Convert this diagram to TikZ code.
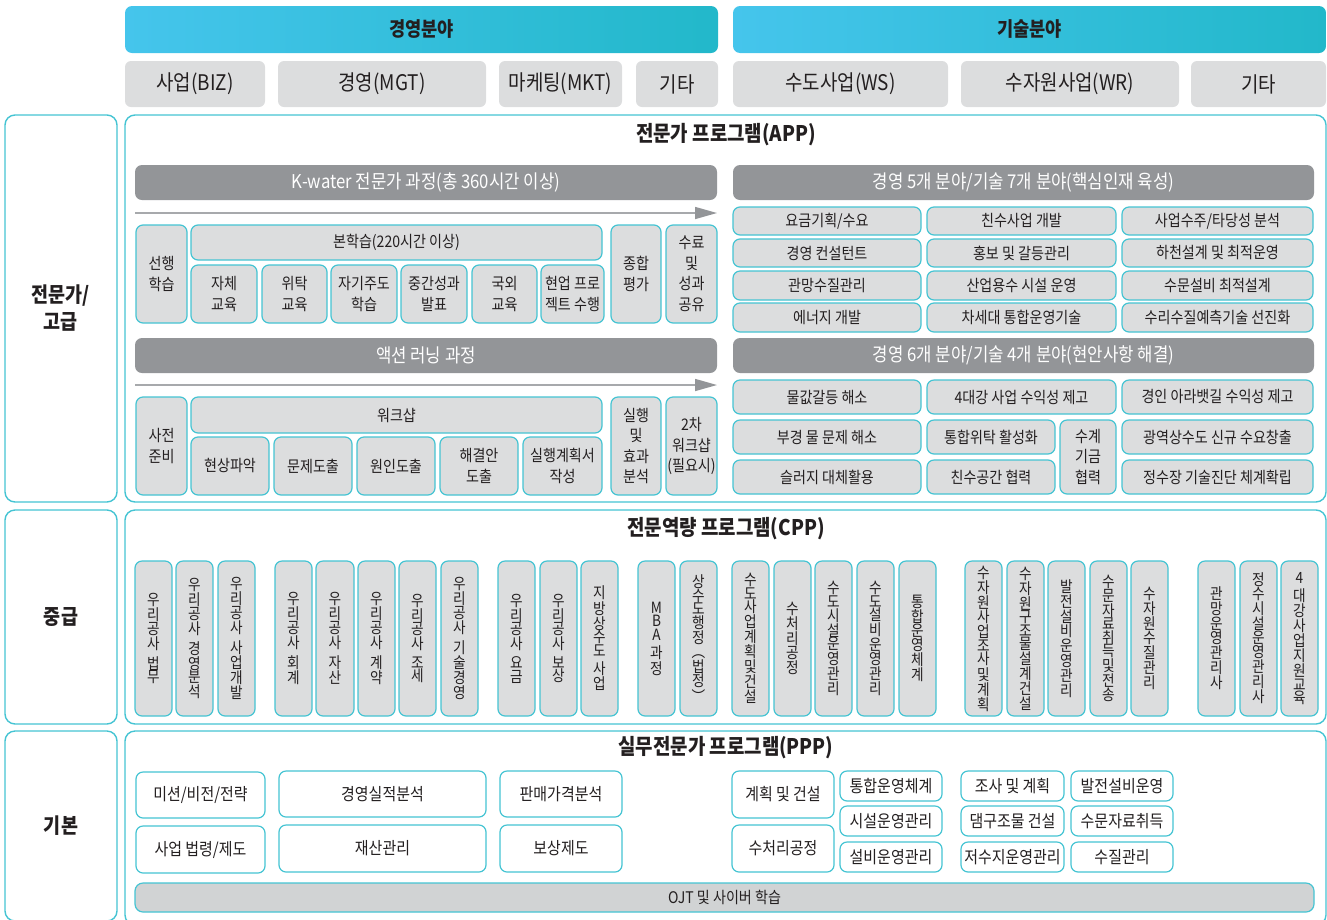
\documentclass[tikz,border=0pt]{standalone}
\usepackage{fontspec}
\setmainfont{Noto Sans CJK KR}[FakeStretch=0.88]
\usetikzlibrary{shapes,arrows.meta,positioning}

\definecolor{lineteal}{HTML}{45C4D3}
\definecolor{itemgray}{HTML}{DCDDDE}
\definecolor{bargray}{HTML}{939598}
\definecolor{ojtgray}{HTML}{D1D3D4}
\definecolor{hcyanl}{HTML}{45C5EC}
\definecolor{hcyanr}{HTML}{22B8CA}
\definecolor{darktxt}{HTML}{231F20}
\definecolor{arrowgray}{HTML}{A7A9AC}

% box from (x1,y1) to (x2,y2) in pixel units
\newcommand{\cellbox}[8][]{%
  \node[#2,minimum width={#6-#4},minimum height={#7-#5},#1] (#3) at ({(#4+#6)/2},{(#5+#7)/2}) {#8};}

\begin{document}
\begin{tikzpicture}[x=1pt,y=-1pt,
    head/.style={rectangle,rounded corners=7pt,left color=hcyanl,right color=hcyanr,text=darktxt,font=\fontsize{20}{22}\selectfont\bfseries,inner sep=0pt},
    field/.style={rectangle,rounded corners=6pt,fill=itemgray,text=darktxt,font=\fontsize{21.5}{24}\selectfont,inner sep=0pt},
    level/.style={rectangle,draw=lineteal,line width=1.4pt,rounded corners=10pt,fill=white,text=darktxt,font=\fontsize{21}{27}\selectfont\bfseries,align=center,inner sep=0pt},
    ptitle/.style={text=darktxt,font=\fontsize{21.5}{24}\selectfont\bfseries},
    bar/.style={rectangle,rounded corners=7pt,fill=bargray,text=white,font=\fontsize{19}{22}\selectfont,inner sep=0pt},
    item/.style={rectangle,draw=lineteal,line width=1.2pt,rounded corners=7pt,fill=itemgray,text=darktxt,font=\fontsize{16}{20.5}\selectfont,align=center,inner sep=0pt},
    vitem/.style={item,font=\fontsize{15.5}{13.6}\selectfont},
    pitem/.style={item,fill=white,font=\fontsize{17}{20}\selectfont},
    ojt/.style={item,fill=ojtgray,rounded corners=8pt},
    timeline/.style={arrowgray,line width=1.5pt,-{Triangle[length=22pt,width=12pt,fill=bargray,color=bargray]}}]
\clip (0,0) rectangle (1327,919);
\useasboundingbox (0,0) rectangle (1327,919);

% fields
\cellbox{head}{mgthead}{125}{6}{718}{53}{경영분야}
\cellbox{head}{techhead}{733}{6}{1326}{53}{기술분야}
\cellbox{field}{fbiz}{125}{61}{265}{107}{사업(BIZ)}
\cellbox{field}{fmgt}{278}{61}{486}{107}{경영(MGT)}
\cellbox{field}{fmkt}{499}{61}{622}{107}{마케팅(MKT)}
\cellbox{field}{fetca}{636}{61}{718}{107}{기타}
\cellbox{field}{fws}{733}{61}{948}{107}{수도사업(WS)}
\cellbox{field}{fwr}{961}{61}{1179}{107}{수자원사업(WR)}
\cellbox{field}{fetcb}{1191}{61}{1326}{107}{기타}

% levels and programs
\cellbox{level}{lvhigh}{5}{115}{117}{502}{전문가/\\고급}
\cellbox{level}{lvmid}{5}{510}{117}{724}{중급}
\cellbox{level}{lvbase}{5}{731}{117}{921}{기본}
\cellbox{level}{app}{125}{115}{1326}{502}{}
\cellbox{level}{cpp}{125}{510}{1326}{724}{}
\cellbox{level}{ppp}{125}{731}{1326}{925}{}
\node[ptitle] (apptitle) at (726,135) {전문가 프로그램(APP)};
\node[ptitle] (cpptitle) at (726,529) {전문역량 프로그램(CPP)};
\node[ptitle] (ppptitle) at (726,748) {실무전문가 프로그램(PPP)};

% APP: K-water course
\cellbox{bar}{kwbar}{135}{165}{717}{200}{K-water 전문가 과정(총 360시간 이상)}
\coordinate (kwstart) at (135,213);
\coordinate (kwend) at (717,213);
\draw[timeline] (kwstart) -- (kwend);
\cellbox{item}{prelearn}{136}{225}{187}{323}{선행\\학습}
\cellbox{item}{mainlearn}{191}{225}{602}{260}{본학습(220시간 이상)}
\cellbox{item}{selfedu}{191}{265}{257}{323}{자체\\교육}
\cellbox{item}{trustedu}{262}{265}{327}{323}{위탁\\교육}
\cellbox{item}{selfdir}{331}{265}{397}{323}{자기주도\\학습}
\cellbox{item}{midpres}{401}{265}{467}{323}{중간성과\\발표}
\cellbox{item}{abroad}{472}{265}{537}{323}{국외\\교육}
\cellbox{item}{project}{541}{265}{604}{323}{현업 프로\\젝트 수행}
\cellbox{item}{totaleval}{611}{225}{661}{323}{종합\\평가}
\cellbox{item}{complete}{666}{225}{717}{323}{수료\\및\\성과\\공유}

% APP: core talent
\cellbox{bar}{corebar}{733}{165}{1314}{200}{경영 5개 분야/기술 7개 분야(핵심인재 육성)}
\cellbox{item}{ca}{733}{207}{921}{235}{요금기획/수요}
\cellbox{item}{cb}{927}{207}{1116}{235}{친수사업 개발}
\cellbox{item}{cc}{1122}{207}{1313}{235}{사업수주/타당성 분석}
\cellbox{item}{cd}{733}{239}{921}{267}{경영 컨설턴트}
\cellbox{item}{ce}{927}{239}{1116}{267}{홍보 및 갈등관리}
\cellbox{item}{cf}{1122}{239}{1313}{267}{하천설계 및 최적운영}
\cellbox{item}{cg}{733}{271}{921}{300}{관망수질관리}
\cellbox{item}{ch}{927}{271}{1116}{300}{산업용수 시설 운영}
\cellbox{item}{ci}{1122}{271}{1313}{300}{수문설비 최적설계}
\cellbox{item}{cj}{733}{303}{921}{332}{에너지 개발}
\cellbox{item}{ck}{927}{303}{1116}{332}{차세대 통합운영기술}
\cellbox{item}{cl}{1122}{303}{1313}{332}{수리수질예측기술 선진화}

% APP: action learning
\cellbox{bar}{albar}{135}{338}{717}{373}{액션 러닝 과정}
\coordinate (alstart) at (135,385);
\coordinate (alend) at (717,385);
\draw[timeline] (alstart) -- (alend);
\cellbox{item}{prep}{136}{397}{187}{495}{사전\\준비}
\cellbox{item}{workshop}{191}{397}{602}{433}{워크샵}
\cellbox{item}{wsa}{191}{437}{269}{495}{현상파악}
\cellbox{item}{wsb}{274}{437}{352}{495}{문제도출}
\cellbox{item}{wsc}{357}{437}{435}{495}{원인도출}
\cellbox{item}{wsd}{440}{437}{518}{495}{해결안\\도출}
\cellbox{item}{wse}{523}{437}{602}{495}{실행계획서\\작성}
\cellbox{item}{execeval}{611}{397}{661}{495}{실행\\및\\효과\\분석}
\cellbox{item}{secondws}{666}{397}{717}{495}{2차\\워크샵\\(필요시)}

% APP: pending issues
\cellbox{bar}{issuebar}{733}{338}{1314}{373}{경영 6개 분야/기술 4개 분야(현안사항 해결)}
\cellbox{item}{ia}{733}{380}{921}{414}{물값갈등 해소}
\cellbox{item}{ib}{927}{380}{1116}{414}{4대강 사업 수익성 제고}
\cellbox{item}{ic}{1122}{380}{1313}{414}{경인 아라뱃길 수익성 제고}
\cellbox{item}{id}{733}{420}{921}{454}{부경 물 문제 해소}
\cellbox{item}{ie}{927}{420}{1055}{454}{통합위탁 활성화}
\cellbox{item}{ifund}{1060}{420}{1116}{494}{수계\\기금\\협력}
\cellbox{item}{ig}{1122}{420}{1313}{454}{광역상수도 신규 수요창출}
\cellbox{item}{ih}{733}{460}{921}{494}{슬러지 대체활용}
\cellbox{item}{ii}{927}{460}{1055}{494}{친수공간 협력}
\cellbox{item}{ij}{1122}{460}{1313}{494}{정수장 기술진단 체계확립}

% CPP
\cellbox{vitem}{va}{135}{561}{172}{716}{우\\리\\공\\사\\[5pt]법\\무}
\cellbox{vitem}{vb}{176}{561}{213}{716}{우\\리\\공\\사\\[5pt]경\\영\\분\\석}
\cellbox{vitem}{vc}{218}{561}{255}{716}{우\\리\\공\\사\\[5pt]사\\업\\개\\발}
\cellbox{vitem}{vd}{275}{561}{312}{716}{우\\리\\공\\사\\[5pt]회\\계}
\cellbox{vitem}{ve}{316}{561}{354}{716}{우\\리\\공\\사\\[5pt]자\\산}
\cellbox{vitem}{vf}{358}{561}{395}{716}{우\\리\\공\\사\\[5pt]계\\약}
\cellbox{vitem}{vg}{399}{561}{436}{716}{우\\리\\공\\사\\[5pt]조\\세}
\cellbox{vitem}{vh}{441}{561}{478}{716}{우\\리\\공\\사\\[5pt]기\\술\\경\\영}
\cellbox{vitem}{vi}{498}{561}{535}{716}{우\\리\\공\\사\\[5pt]요\\금}
\cellbox{vitem}{vj}{540}{561}{577}{716}{우\\리\\공\\사\\[5pt]보\\상}
\cellbox{vitem}{vk}{581}{561}{618}{716}{지\\방\\상\\수\\도\\[5pt]사\\업}
\cellbox{vitem}{vl}{638}{561}{675}{716}{M\\B\\A\\[5pt]과\\정}
\cellbox{vitem}{vm}{680}{561}{717}{716}{상\\수\\도\\행\\정\\︵\\법\\정\\︶}
\cellbox{vitem}{vn}{732}{561}{769}{716}{수\\도\\사\\업\\계\\획\\및\\건\\설}
\cellbox{vitem}{vo}{774}{561}{811}{716}{수\\처\\리\\공\\정}
\cellbox{vitem}{vp}{815}{561}{852}{716}{수\\도\\시\\설\\운\\영\\관\\리}
\cellbox{vitem}{vq}{857}{561}{894}{716}{수\\도\\설\\비\\운\\영\\관\\리}
\cellbox{vitem}{vr}{899}{561}{936}{716}{통\\합\\운\\영\\체\\계}
\cellbox{vitem}{vs}{965}{561}{1002}{716}{수\\자\\원\\사\\업\\조\\사\\및\\계\\획}
\cellbox{vitem}{vt}{1007}{561}{1044}{716}{수\\자\\원\\구\\조\\물\\설\\계\\건\\설}
\cellbox{vitem}{vu}{1048}{561}{1085}{716}{발\\전\\설\\비\\운\\영\\관\\리}
\cellbox{vitem}{vv}{1090}{561}{1127}{716}{수\\문\\자\\료\\취\\득\\및\\전\\송}
\cellbox{vitem}{vw}{1131}{561}{1168}{716}{수\\자\\원\\수\\질\\관\\리}
\cellbox{vitem}{vx}{1198}{561}{1235}{716}{관\\망\\운\\영\\관\\리\\사}
\cellbox{vitem}{vy}{1240}{561}{1277}{716}{정\\수\\시\\설\\운\\영\\관\\리\\사}
\cellbox{vitem}{vz}{1281}{561}{1318}{716}{4\\[5pt]대\\강\\사\\업\\지\\원\\교\\육}

% PPP
\cellbox{pitem}{pa}{136}{772}{265}{818}{미션/비전/전략}
\cellbox{pitem}{pb}{136}{826}{265}{873}{사업 법령/제도}
\cellbox{pitem}{pc}{279}{771}{486}{817}{경영실적분석}
\cellbox{pitem}{pd}{279}{825}{486}{872}{재산관리}
\cellbox{pitem}{pe}{500}{771}{622}{817}{판매가격분석}
\cellbox{pitem}{pf}{500}{825}{622}{872}{보상제도}
\cellbox{pitem}{pg}{732}{771}{834}{818}{계획 및 건설}
\cellbox{pitem}{ph}{732}{825}{834}{872}{수처리공정}
\cellbox{pitem}{pi}{840}{771}{942}{801}{통합운영체계}
\cellbox{pitem}{pj}{840}{806}{942}{836}{시설운영관리}
\cellbox{pitem}{pk}{840}{842}{942}{872}{설비운영관리}
\cellbox{pitem}{pl}{961}{771}{1064}{801}{조사 및 계획}
\cellbox{pitem}{pm}{961}{806}{1064}{836}{댐구조물 건설}
\cellbox{pitem}{pn}{961}{842}{1064}{872}{저수지운영관리}
\cellbox{pitem}{po}{1071}{771}{1173}{801}{발전설비운영}
\cellbox{pitem}{pp}{1071}{806}{1173}{836}{수문자료취득}
\cellbox{pitem}{pq}{1071}{842}{1173}{872}{수질관리}
\cellbox{ojt}{ojtbar}{135}{883}{1314}{912}{OJT 및 사이버 학습}
\end{tikzpicture}
\end{document}
